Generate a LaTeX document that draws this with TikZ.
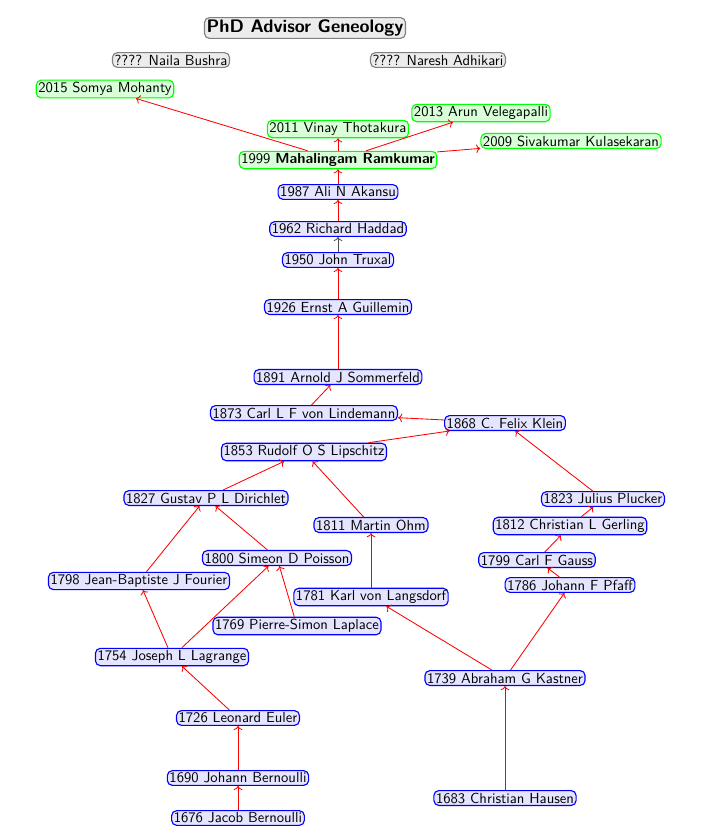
\documentclass[tikz,border=0pt]{standalone}
\usepackage{tikz}
\usetikzlibrary{arrows.meta}
\renewcommand{\familydefault}{\sfdefault}
\tikzset{
  every node/.style={font=\fontsize{10.4}{12}\selectfont},
  prof/.style={draw=blue, fill=blue!10, rounded corners=3.5pt, inner sep=1.5pt, thick},
  stud/.style={draw=green, fill=green!15, rounded corners=3.5pt, inner sep=1.5pt, thick},
  unkn/.style={draw=gray, fill=gray!15, rounded corners=3.5pt, inner sep=1.5pt, thick},
  ttl/.style={unkn, font=\fontsize{12.9}{15}\selectfont\bfseries},
  adv/.style={->, red, semithick},
  advk/.style={->, black!70, semithick},
}

\begin{document}
\begin{tikzpicture}[x=0.025cm, y=-0.025cm]
  \useasboundingbox (0,0) rectangle (704,838);
  % title and unknown years
  \node[ttl] (title) at (305,28) {PhD Advisor Geneology};
  \node[unkn] (naila) at (171,60) {???? Naila Bushra};
  \node[unkn] (naresh) at (438,60) {???? Naresh Adhikari};

  % students
  \node[stud] (somya) at (105,89) {2015 Somya Mohanty};
  \node[stud] (arun) at (481,113) {2013 Arun Velegapalli};
  \node[stud] (vinay) at (338,129) {2011 Vinay Thotakura};
  \node[stud] (siva) at (571,141) {2009 Sivakumar Kulasekaran};
  \node[stud] (ramk) at (338,160) {1999 \textbf{Mahalingam Ramkumar}};

  % advisors
  \node[prof] (akansu) at (338,192) {1987 Ali N Akansu};
  \node[prof] (haddad) at (338,229) {1962 Richard Haddad};
  \node[prof] (truxal) at (338,260) {1950 John Truxal};
  \node[prof] (guill) at (338,307) {1926 Ernst A Guillemin};
  \node[prof] (somm) at (338,377) {1891 Arnold J Sommerfeld};
  \node[prof] (linde) at (304,413) {1873 Carl L F von Lindemann};
  \node[prof] (klein) at (505,423) {1868 C. Felix Klein};
  \node[prof] (lipsch) at (304,452) {1853 Rudolf O S Lipschitz};
  \node[prof] (dirich) at (206,498) {1827 Gustav P L Dirichlet};
  \node[prof] (pluck) at (603,499) {1823 Julius Plucker};
  \node[prof] (ohm) at (371,525) {1811 Martin Ohm};
  \node[prof] (gerl) at (570,526) {1812 Christian L Gerling};
  \node[prof] (poiss) at (277,558) {1800 Simeon D Poisson};
  \node[prof] (gauss) at (537,560) {1799 Carl F Gauss};
  \node[prof] (fourier) at (139,581) {1798 Jean-Baptiste J Fourier};
  \node[prof] (pfaff) at (570,585) {1786 Johann F Pfaff};
  \node[prof] (langs) at (371,597) {1781 Karl von Langsdorf};
  \node[prof] (lapl) at (297,626) {1769 Pierre-Simon Laplace};
  \node[prof] (lagr) at (172,657) {1754 Joseph L Lagrange};
  \node[prof] (kastn) at (505,678) {1739 Abraham G Kastner};
  \node[prof] (euler) at (238,718) {1726 Leonard Euler};
  \node[prof] (johann) at (238,778) {1690 Johann Bernoulli};
  \node[prof] (hausen) at (505,798) {1683 Christian Hausen};
  \node[prof] (jacob) at (238,818) {1676 Jacob Bernoulli};

  % advisor to student
  \draw[adv] (ramk) -- (somya);
  \draw[adv] (ramk) -- (arun);
  \draw[adv] (ramk) -- (vinay);
  \draw[adv] (ramk) -- (siva);
  \draw[adv] (akansu) -- (ramk);
  \draw[adv] (haddad) -- (akansu);
  \draw[advk] (truxal) -- (haddad);
  \draw[adv] (guill) -- (truxal);
  \draw[adv] (somm) -- (guill);
  \draw[adv] (linde) -- (somm);
  \draw[adv] (klein) -- (linde);
  \draw[adv] (lipsch) -- (klein);
  \draw[adv] (pluck) -- (klein);
  \draw[adv] (gerl) -- (pluck);
  \draw[adv] (gauss) -- (gerl);
  \draw[adv] (pfaff) -- (gauss);
  \draw[adv] (kastn) -- (pfaff);
  \draw[adv] (kastn) -- (langs);
  \draw[adv] (hausen) -- (kastn);
  \draw[adv] (langs) -- (ohm);
  \draw[adv] (ohm) -- (lipsch);
  \draw[adv] (dirich) -- (lipsch);
  \draw[adv] (poiss) -- (dirich);
  \draw[adv] (fourier) -- (dirich);
  \draw[adv] (lapl) -- (poiss);
  \draw[adv] (lagr) -- (poiss);
  \draw[adv] (lagr) -- (fourier);
  \draw[adv] (euler) -- (lagr);
  \draw[adv] (johann) -- (euler);
  \draw[adv] (jacob) -- (johann);
\end{tikzpicture}
\end{document}
